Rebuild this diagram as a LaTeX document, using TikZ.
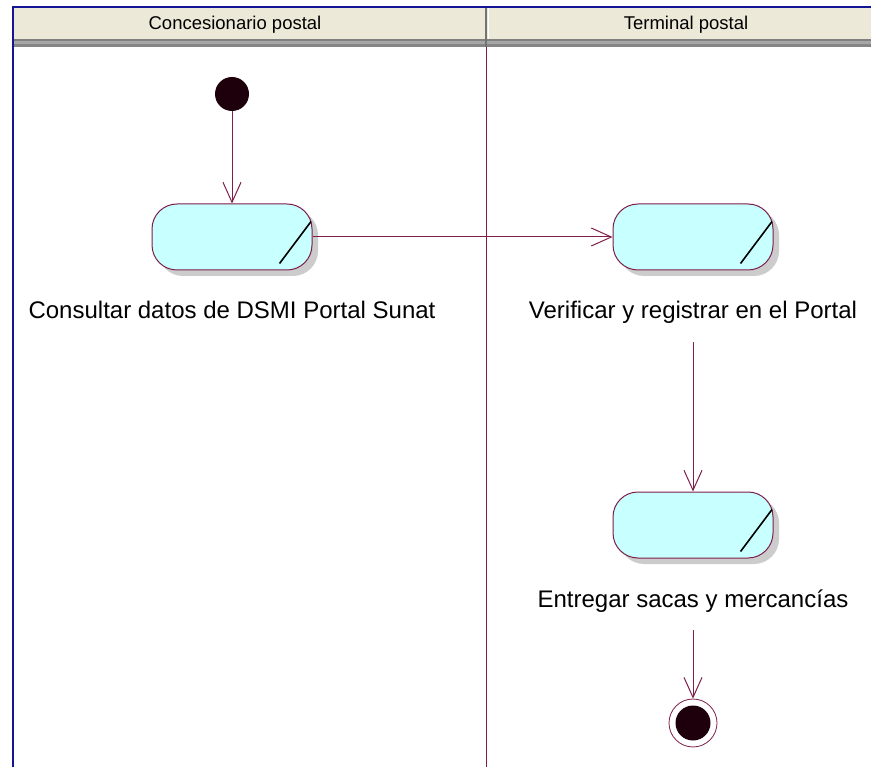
\documentclass[tikz,border=0pt]{standalone}
\usepackage{fontspec}
\setmainfont{Liberation Sans}
\usepackage{xcolor}
\usepackage{tikz}
\usetikzlibrary{arrows.meta,shadows,positioning}
\definecolor{laneclr}{RGB}{125,30,75}
\definecolor{actfill}{RGB}{200,255,255}
\definecolor{headfill}{RGB}{236,233,216}
\definecolor{frameclr}{RGB}{20,20,150}
\definecolor{dotclr}{RGB}{30,0,12}
\tikzset{ACT style/.style={>={Straight Barb[length=20pt,width=18pt]},every node/.style={inner sep=0pt}}}

\begin{document}
\begin{tikzpicture}[x=1pt,y=-1pt,ACT style]
	\tikzstyle{act}=[draw=laneclr,fill=actfill,line width=1pt,rounded corners=25pt,
	minimum width=160pt,minimum height=66pt,
	drop shadow={shadow xshift=6pt,shadow yshift=-6pt,fill=black!20,opacity=1}]
	\tikzstyle{lbl}=[font=\fontsize{24}{28}\selectfont,inner ysep=18pt,text height=17pt,text depth=5pt]
	\tikzstyle{lanehead}=[font=\fontsize{18.5}{22}\selectfont]
	\tikzstyle{flow}=[->,draw=laneclr,line width=1pt]
	\useasboundingbox (0,0) rectangle (871,767);
	% swimlane header
	\fill[white] (0,0) rectangle (871,767);
	\fill[headfill] (13,7) rectangle (871,39);
	\fill[black!50] (13,39) rectangle (871,41);
	\fill[black!35] (13,41) rectangle (871,44);
	\fill[black!48] (13,44) rectangle (871,47);
	\draw[black!55,line width=1.5pt] (486,7) -- (486,47);
	\draw[white,line width=1pt] (488,7) -- (488,39);
	\draw[laneclr,line width=1pt] (486,47) -- (486,767);
	\draw[frameclr,line width=2pt] (13,767) -- (13,7) -- (871,7);
	\node[lanehead] (h1) at (235,25) {Concesionario postal};
	\node[lanehead] (h2) at (686,25) {Terminal postal};
	
	\node[circle,fill=dotclr,minimum size=34pt] (ini) at (232,94) {};
	\node[act] (c) at (232,237) {};
	\node[act] [right of=c, node distance=461pt] (v) {};
	\node[lbl] [below of=c, node distance=76pt] (cl) {Consultar datos de DSMI Portal Sunat};
	\node[lbl] [below of=v, node distance=76pt] (vl) {Verificar y registrar en el Portal};
	\node[act] [below of=vl, node distance=212pt] (e) {};
	\node[lbl] [below of=e, node distance=76pt] (el) {Entregar sacas y mercancías};
	\node[circle,draw=laneclr,line width=0.8pt,minimum size=48pt,
	path picture={\fill[dotclr] (path picture bounding box.center) circle (17.5pt);}]
	[below of=el, node distance=122pt] (fin) {};
	
	% state marks
	\foreach \n in {c,v,e}
	\draw[black,line width=1.6pt] ([xshift=-1.5pt,yshift=-18pt]\n.north east) -- ([xshift=-33pt,yshift=7pt]\n.south east);
	
	\draw[flow] (ini) -- (c);
	\draw[flow] (c) -- (v);
	\draw[flow] (vl) -- (e);
	\draw[flow] (el) -- (fin);
\end{tikzpicture}
\end{document}
